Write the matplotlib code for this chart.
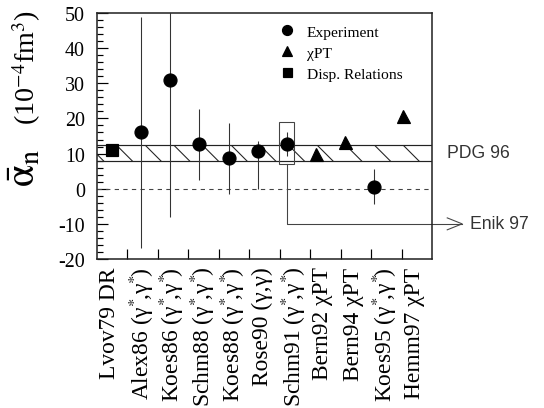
import numpy as np
import matplotlib
matplotlib.use("Agg")
import matplotlib.pyplot as plt
from matplotlib.lines import Line2D
from matplotlib.patches import Rectangle

# neutron electric polarizability, units of 1e-4 fm^3
labels = ["Lvov79 DR", r"Alex86 (γ$^{*}\!$,γ$^{*}\!$)", r"Koes86 (γ$^{*}\!$,γ$^{*}\!$)",
          r"Schm88 (γ$^{*}\!$,γ$^{*}\!$)", r"Koes88 (γ$^{*}\!$,γ$^{*}\!$)", "Rose90 (γ,γ)",
          r"Schm91 (γ$^{*}\!$,γ$^{*}\!$)", "Bern92 χPT", "Bern94 χPT",
          r"Koes95 (γ$^{*}\!$,γ$^{*}\!$)", "Hemm97 χPT"]

disp_idx = [0]
disp_val = [11.0]

exp_idx = [1, 2, 3, 4, 5, 6, 9]
exp_val = [16.0, 31.0, 12.6, 8.6, 10.7, 12.6, 0.6]
exp_err_lo = [33.0, 39.0, 10.0, 10.0, 10.7, 3.4, 5.0]
exp_err_hi = [33.0, 39.0, 10.0, 10.0, 3.0, 3.4, 5.0]

chpt_idx = [7, 8, 10]
chpt_val = [10.0, 13.3, 20.8]

pdg96 = (8.0, 12.4)
enik97 = (6.9, 19.0)

DPI = 86
PX = 72.0 / DPI  # points per pixel

plt.rcParams["font.family"] = ["Liberation Serif", "DejaVu Serif"]
plt.rcParams["mathtext.fontset"] = "stix"
plt.rcParams["axes.unicode_minus"] = False
plt.rcParams["hatch.linewidth"] = 0.9

fig = plt.figure(figsize=(544 / DPI, 409 / DPI), dpi=DPI)
ax = fig.add_axes([97 / 544, 1 - 260 / 409, 335 / 544, 246 / 409])

# data points sit slightly off the integer grid of the frame
xpos = 0.5 + 0.955 * np.arange(len(labels))

ax.set_xlim(0, 11)
ax.set_ylim(-20, 50)

# PDG 96 band
ax.axhspan(pdg96[0], pdg96[1], facecolor="none", edgecolor="#222222",
           hatch="\\", lw=0)
for yb in pdg96:
    ax.axhline(yb, color="#222222", lw=1.0)

ax.axhline(0, color="#444444", lw=0.9, dashes=(4, 4))

ax.errorbar(xpos[exp_idx], exp_val, yerr=[exp_err_lo, exp_err_hi], fmt="o",
            color="black", ecolor="#333333", elinewidth=0.9,
            ms=13 * PX, capsize=0, zorder=4)
ax.plot(xpos[chpt_idx], chpt_val, "^", color="black", ms=13 * PX, zorder=4)
ax.plot(xpos[disp_idx], disp_val, "s", color="black", ms=12 * PX, zorder=4)

# Enik 97 range box with the pointer out to its label
xe = xpos[6]
ax.add_patch(Rectangle((xe - 0.25, enik97[0]), 0.5, enik97[1] - enik97[0],
                       fill=False, edgecolor="#444444", lw=0.9, zorder=3))
x_tip = 11.99
ax.plot([xe, xe, x_tip], [enik97[0], -10, -10], color="#444444", lw=0.9,
        clip_on=False)
ax.plot([x_tip - 0.49, x_tip, x_tip - 0.49], [-8.3, -10, -11.7],
        color="#444444", lw=0.9, clip_on=False)
ax.text(12.25, -10, "Enik 97", family="Liberation Sans", fontsize=17.6 * PX,
        color="#333333", va="center", ha="left")
ax.text(11.49, sum(pdg96) / 2, "PDG 96", family="Liberation Sans",
        fontsize=17.6 * PX, color="#333333", va="center", ha="left")

# frame and ticks
for sp in ax.spines.values():
    sp.set_linewidth(1.3)
    sp.set_color("#222222")
ax.set_yticks(np.arange(-20, 51, 10))
ax.set_yticks(np.arange(-20, 51, 2), minor=True)
ax.set_xticks(np.arange(1, 11))
ax.set_xticklabels([])
ax.tick_params(axis="y", which="major", direction="in", length=11 * PX,
               width=1.0, labelsize=20 * PX, pad=12 * PX)
ax.tick_params(axis="y", which="minor", direction="in", length=6 * PX,
               width=1.0)
ax.tick_params(axis="x", which="major", direction="in", length=10 * PX,
               width=1.0)

for i, lab in enumerate(labels):
    ax.text(i + 0.42, -0.03, lab, transform=ax.get_xaxis_transform(),
            rotation=90, ha="center", va="top", fontsize=23.5 * PX)

# y axis title: large alpha-bar, units beside it
fig.text(27 / 544, 1 - 68 / 409, r"(10$^{-4}$fm$^{3}$)", rotation=90,
         ha="center", va="center", fontsize=28 * PX)
fig.text(25 / 544, 1 - 168 / 409, r"$\bar{\mathrm{\alpha}}_{\mathrm{n}}$",
         rotation=90, ha="center", va="center", fontsize=40 * PX)

handles = [Line2D([], [], ls="none", marker="o", color="black", ms=10 * PX),
           Line2D([], [], ls="none", marker="^", color="black", ms=10 * PX),
           Line2D([], [], ls="none", marker="s", color="black", ms=9 * PX)]
ax.legend(handles, ["Experiment", "χPT", "Disp. Relations"],
          loc="upper left", bbox_to_anchor=(0.549, 0.951), frameon=False,
          fontsize=15.5 * PX, handlelength=0.8, handletextpad=0.88,
          labelspacing=0.45, borderaxespad=0, borderpad=0)

fig.savefig("out.png", dpi=DPI)
